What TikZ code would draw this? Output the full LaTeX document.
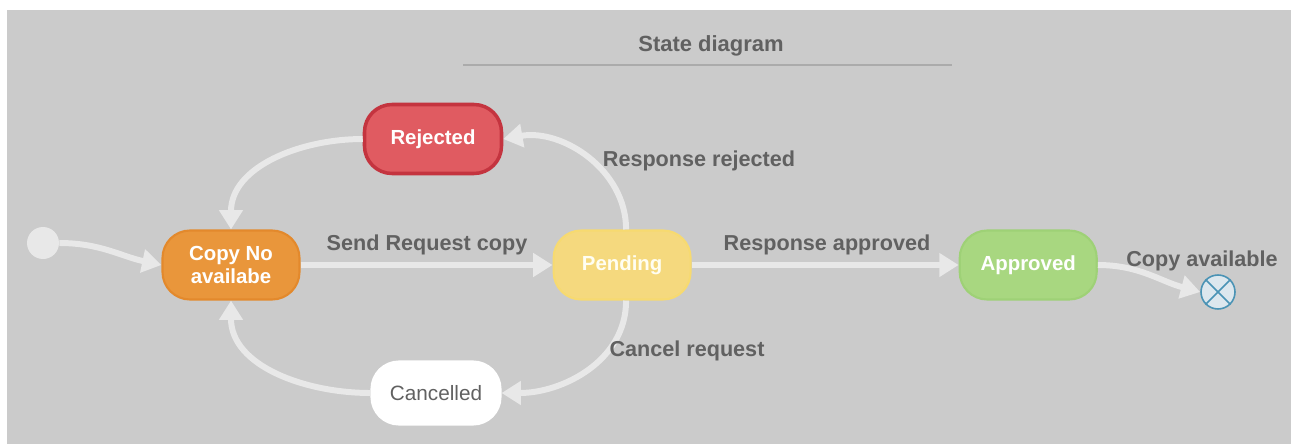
\documentclass[tikz,border=0pt]{standalone}
\usepackage{fontspec}
\setmainfont{Liberation Sans}
\usetikzlibrary{shapes, arrows.meta, positioning}

\definecolor{panel}{HTML}{CBCBCB}
\definecolor{edge}{HTML}{E8E8E8}
\definecolor{lbltext}{HTML}{616161}
\definecolor{titleline}{HTML}{ABABAB}
\definecolor{copyfill}{HTML}{E9963B}
\definecolor{copyline}{HTML}{E3892C}
\definecolor{rejfill}{HTML}{E05B61}
\definecolor{rejline}{HTML}{C4343F}
\definecolor{pendfill}{HTML}{F5D97E}
\definecolor{pendline}{HTML}{F7DA70}
\definecolor{apprfill}{HTML}{A8D780}
\definecolor{apprline}{HTML}{9ED176}
\definecolor{finfill}{HTML}{DCE7EE}
\definecolor{finline}{HTML}{4A93B5}

\begin{document}
\begin{tikzpicture}[
        state/.style={rectangle, rounded corners=0.55cm, minimum width=2.74cm, minimum height=1.38cm, inner sep=0pt, line width=1.2pt, align=center, text=white, font=\fontsize{11.6}{13.5}\selectfont\bfseries},
        copyno/.style={state, fill=copyfill, draw=copyline},
        rejected/.style={state, fill=rejfill, draw=rejline, line width=2pt},
        pending/.style={state, fill=pendfill, draw=pendline, text=white!95!yellow},
        approved/.style={state, fill=apprfill, draw=apprline},
        cancelled/.style={state, fill=white, draw=white, minimum width=2.58cm, minimum height=1.26cm, text=lbltext, font=\fontsize{11.8}{13.5}\selectfont},
        trans/.style={-{Triangle[length=11pt, width=13pt]}, line width=3.4pt, draw=edge},
        lbl/.style={font=\fontsize{12.3}{14}\selectfont\bfseries, text=lbltext, inner sep=0pt}
    ]
        \useasboundingbox (0,0) rectangle (25.82,8.88);
        \fill[panel] (0.14,0) rectangle (25.82,8.68);

        % Title
        \node[font=\fontsize{12.5}{14}\selectfont\bfseries, text=lbltext] (title) at (14.22,7.96) {State diagram};
        \draw[titleline, line width=1.2pt] (9.26,7.58) -- (19.04,7.58);

        % States
        \node[circle, fill=edge, minimum size=0.64cm, inner sep=0pt] (init) at (0.86,4.02) {};
        \node[copyno] (copy) at (4.62,3.58) {Copy No\\availabe};
        \node[pending, right=5.04cm of copy] (pend) {Pending};
        \node[approved, right=5.34cm of pend] (appr) {Approved};
        \node[rejected] (rej) at (8.66,6.10) {Rejected};
        \node[cancelled] (canc) at (8.72,1.02) {Cancelled};
        \node[circle, fill=finfill, draw=finline, line width=0.9pt, minimum size=0.68cm, inner sep=0pt] (fin) at (24.36,3.04) {};
        \draw[finline, line width=0.9pt] (fin.45) -- (fin.225);
        \draw[finline, line width=0.9pt] (fin.135) -- (fin.315);

        % Transitions
        \draw[trans] (init.east) to[out=0, in=168] (copy.west);
        \draw[trans] (copy) -- (pend);
        \draw[trans] ([xshift=0.08cm]pend.north) to[out=90, in=10] (rej.east);
        \draw[trans] (rej.west) to[out=180, in=90] (copy.north);
        \draw[trans] ([xshift=0.08cm]pend.south) to[out=-90, in=0] (canc.east);
        \draw[trans] (canc.west) to[out=180, in=-90] (copy.south);
        \draw[trans] (pend) -- (appr);
        \draw[trans] (appr.east) to[out=0, in=165] (fin.west);

        % Transition labels
        \node[lbl] (send) at (8.54,3.98) {Send Request copy};
        \node[lbl] (rresp) at (13.98,5.66) {Response rejected};
        \node[lbl] (aresp) at (16.54,3.98) {Response approved};
        \node[lbl] (cresp) at (13.74,1.86) {Cancel request};
        \node[lbl] (avail) at (24.04,3.66) {Copy available};
    \end{tikzpicture}
\end{document}
